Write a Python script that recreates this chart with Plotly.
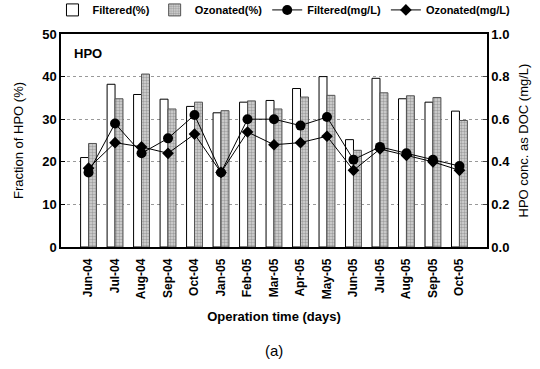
import plotly.graph_objects as go

months = ["Jun-04", "Jul-04", "Aug-04", "Sep-04", "Oct-04", "Jan-05", "Feb-05", "Mar-05",
          "Apr-05", "May-05", "Jun-05", "Jul-05", "Aug-05", "Sep-05", "Oct-05"]
filtered_pct = [21.0, 38.2, 35.8, 34.7, 33.0, 31.5, 34.0, 34.4, 37.2, 40.0, 25.2, 39.6, 34.8, 34.0, 31.9]
ozonated_pct = [24.3, 34.8, 40.6, 32.4, 34.0, 32.0, 34.3, 32.4, 35.2, 35.6, 22.7, 36.2, 35.5, 35.1, 29.7]
filtered_mgl = [0.35, 0.58, 0.44, 0.51, 0.62, 0.35, 0.60, 0.60, 0.57, 0.61, 0.41, 0.47, 0.44, 0.41, 0.38]
ozonated_mgl = [0.37, 0.49, 0.47, 0.44, 0.53, 0.35, 0.54, 0.48, 0.49, 0.52, 0.36, 0.46, 0.43, 0.40, 0.36]

FONT = "Liberation Sans, Arial, sans-serif"

fig = go.Figure()
fig.add_trace(go.Bar(
    x=months, y=filtered_pct, name="Filtered(%)",
    marker=dict(color="white", line=dict(color="black", width=1)),
))
fig.add_trace(go.Bar(
    x=months, y=ozonated_pct, name="Ozonated(%)",
    marker=dict(color="#cfcfcf", line=dict(color="#555", width=1),
                pattern=dict(shape=".", fgcolor="#6a6a6a", bgcolor="#d6d6d6", size=3, solidity=0.5)),
))
fig.add_trace(go.Scatter(
    x=months, y=filtered_mgl, name="Filtered(mg/L)", yaxis="y2", mode="lines+markers",
    line=dict(color="black", width=1), marker=dict(symbol="circle", size=10, color="black"),
))
fig.add_trace(go.Scatter(
    x=months, y=ozonated_mgl, name="Ozonated(mg/L)", yaxis="y2", mode="lines+markers",
    line=dict(color="black", width=1), marker=dict(symbol="diamond", size=9, color="black"),
))

fig.update_layout(
    width=540, height=369,
    margin=dict(l=61, r=53, t=34, b=122, autoexpand=False),
    paper_bgcolor="white", plot_bgcolor="white",
    barmode="group", bargap=0.4, bargroupgap=0,
    font=dict(family=FONT, size=12, color="black"),
    showlegend=True,
    legend=dict(orientation="h", x=-0.02, y=1.045, xanchor="left", yanchor="bottom",
                font=dict(family=FONT, size=11, weight="bold"),
                itemwidth=30, tracegroupgap=0, bgcolor="rgba(0,0,0,0)"),
    xaxis=dict(
        type="category", showline=True, linecolor="black", linewidth=1.5, mirror=True,
        ticks="", tickangle=-90, showgrid=False, ticklabelstandoff=5,
        tickfont=dict(family=FONT, size=12, weight="bold"),
        title=dict(text="Operation time (days)", standoff=14,
                   font=dict(family=FONT, size=13, weight="bold")),
    ),
    yaxis=dict(
        range=[0, 50], dtick=10, showline=True, linecolor="black", linewidth=1.5, mirror=True,
        ticks="inside", ticklen=4, tickcolor="black",
        showgrid=True, gridcolor="#999", griddash="dot", gridwidth=1,
        tickfont=dict(family=FONT, size=13, weight="bold"),
        zeroline=False,
        title=dict(text="Fraction of HPO (%)", standoff=16, font=dict(family=FONT, size=13)),
    ),
    yaxis2=dict(
        range=[0, 1.0], dtick=0.2, tickformat=".1f", overlaying="y", side="right",
        showline=True, linecolor="black", linewidth=1.5, ticks="inside", ticklen=4,
        showgrid=False, zeroline=False,
        tickfont=dict(family=FONT, size=13, weight="bold"),
        title=dict(text="HPO conc. as DOC (mg/L)", standoff=10, font=dict(family=FONT, size=13)),
    ),
    annotations=[
        dict(text="HPO", xref="paper", yref="paper", x=0.025, y=0.955, xanchor="left", yanchor="top",
             showarrow=False, font=dict(family=FONT, size=13, weight="bold")),
        dict(text="(a)", xref="paper", yref="paper", x=0.499, y=-0.485, xanchor="center", yanchor="middle",
             showarrow=False, font=dict(family=FONT, size=15)),
    ],
)

fig.write_html("out.html")
